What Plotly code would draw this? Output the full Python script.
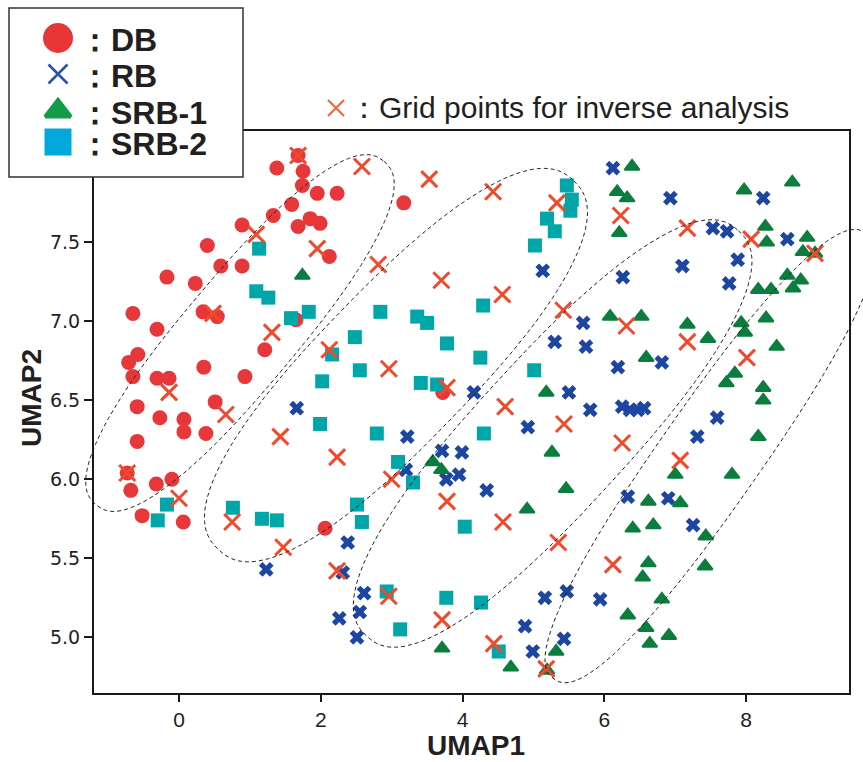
import numpy as np
import plotly.graph_objects as go

# ---------------- data ----------------
db_x = [1.38, 1.75, 1.74, 1.95, 2.23, 1.59, 1.33, 0.89, 1.68, 1.85, 1.99, 2.12, 0.40, 0.59, 0.89,
        -0.17, 0.23, -0.65, -0.31, 0.34, 0.54, 1.65, 1.21, -0.71, -0.58, 0.35, 0.93, -0.65, -0.31,
        -0.14, 0.51, -0.59, -0.27, 0.07, 0.07, 0.38, -0.59, -0.68, -0.32, -0.10, -0.52, 0.06, 2.06,
        3.17, 3.72, 1.68, -0.73]
db_y = [7.97, 7.95, 7.86, 7.81, 7.81, 7.74, 7.67, 7.61, 7.60, 7.65, 7.62, 7.41, 7.48, 7.35, 7.35,
        7.28, 7.24, 7.05, 6.95, 7.06, 7.03, 7.01, 6.82, 6.74, 6.79, 6.71, 6.65, 6.65, 6.64,
        6.64, 6.49, 6.46, 6.39, 6.38, 6.30, 6.29, 6.24, 5.93, 5.97, 6.00, 5.77, 5.73, 5.69,
        7.75, 6.55, 8.05, 6.04]

rb_x = [5.13, 5.70, 5.30, 5.74, 4.16, 5.50, 5.80, 4.92, 3.22, 3.71, 3.99, 3.20, 3.95, 3.77, 4.34,
        1.66, 2.38, 1.23, 2.31, 2.61, 2.55, 2.26, 2.51, 5.16, 5.47, 5.94, 4.88, 5.43, 4.99, 6.12,
        6.93, 8.24, 7.53, 7.73, 8.58, 7.88, 7.10, 6.26, 7.76, 6.81, 6.19, 6.25, 6.36, 6.47, 6.56,
        7.59, 7.31, 6.33, 6.90, 7.25]
rb_y = [7.32, 6.99, 6.87, 6.84, 6.55, 6.55, 6.44, 6.33, 6.27, 6.18, 6.17, 6.06, 6.03, 6.00, 5.93,
        6.45, 5.60, 5.43, 5.41, 5.28, 5.16, 5.12, 5.00, 5.25, 5.29, 5.24, 5.07, 4.99, 4.91, 7.97,
        7.78, 7.78, 7.59, 7.57, 7.52, 7.39, 7.35, 7.28, 7.24, 6.74, 6.71, 6.46, 6.44, 6.44, 6.45,
        6.39, 6.27, 5.89, 5.88, 5.71]

srb1_x = [1.74, 5.18, 5.26, 3.58, 3.70, 5.46, 4.91, 6.39, 6.18, 6.32, 7.97, 8.65, 6.21, 8.27, 8.29,
          8.86, 8.80, 8.97, 8.58, 8.77, 8.66, 8.17, 8.35, 6.08, 6.52, 7.17, 7.93, 7.98, 8.28, 7.46,
          8.43, 6.59, 7.84, 7.72, 8.24, 8.24, 8.17, 7.00, 7.80, 6.62, 7.07, 6.40, 6.69, 7.43, 6.62,
          6.54, 7.42, 6.81, 6.33, 6.59, 6.64, 6.91, 3.71, 5.32, 4.68, 5.19]
srb1_y = [7.29, 6.55, 6.17, 6.11, 6.06, 5.94, 5.81, 7.98, 7.82, 7.78, 7.83, 7.88, 7.56, 7.60, 7.50,
          7.53, 7.44, 7.43, 7.29, 7.26, 7.21, 7.20, 7.20, 7.03, 7.03, 6.98, 6.99, 6.93, 7.02, 6.89,
          6.84, 6.77, 6.67, 6.61, 6.58, 6.50, 6.27, 6.03, 6.03, 5.86, 5.85, 5.69, 5.71, 5.64, 5.47,
          5.38, 5.45, 5.24, 5.14, 5.06, 4.96, 5.01, 4.93, 4.91, 4.81, 4.79]

srb2_x = [1.13, 1.09, 1.26, 1.58, 1.83, 5.47, 5.54, 5.52, 5.19, 5.30, 5.02, 4.29, 2.84, 3.36, 3.50,
          2.48, 3.78, 2.16, 2.02, 1.99, -0.17, -0.30, 0.76, 1.17, 1.38, 4.25, 2.55, 3.41, 3.64, 5.01,
          2.79, 4.30, 3.09, 3.30, 2.51, 2.58, 4.03, 2.93, 3.12, 3.77, 4.26, 4.51]
srb2_y = [7.46, 7.19, 7.15, 7.02, 7.06, 7.86, 7.77, 7.70, 7.65, 7.57, 7.48, 7.10, 7.06, 7.03, 6.99,
          6.90, 6.86, 6.79, 6.62, 6.35, 5.84, 5.74, 5.82, 5.75, 5.74, 6.77, 6.69, 6.61, 6.60, 6.69,
          6.29, 6.29, 6.11, 5.98, 5.84, 5.73, 5.70, 5.29, 5.05, 5.25, 5.22, 4.91]

grid_x = [1.68, 1.09, 1.95, 0.48, 1.31, 2.58, 3.53, 4.43, 5.33, 2.81, 3.70, 4.56, 5.42, 2.12, -0.14,
          0.66, 1.43, 2.23, -0.73, 0.00, 0.75, 2.96, 3.78, 4.60, 5.43, 3.00, 3.78, 4.57, 6.23, 7.17,
          8.07, 8.97, 6.31, 7.17, 8.01, 6.25, 7.07, 6.12, 1.47, 2.23, 2.96, 3.71, 5.35, 4.44, 5.18]
grid_y = [8.05, 7.55, 7.46, 7.05, 6.93, 7.98, 7.90, 7.82, 7.75, 7.36, 7.26, 7.17, 7.07, 6.82, 6.55,
          6.41, 6.27, 6.14, 6.04, 5.88, 5.73, 6.70, 6.58, 6.46, 6.35, 6.00, 5.86, 5.73, 7.67, 7.59,
          7.52, 7.43, 6.97, 6.87, 6.77, 6.23, 6.12, 5.46, 5.57, 5.42, 5.26, 5.11, 5.60, 4.96, 4.80]

x_ticks = [0, 2, 4, 6, 8]
y_ticks = [5.0, 5.5, 6.0, 6.5, 7.0, 7.5]
legend_labels = ["：DB", "：RB", "：SRB-1", "：SRB-2"]
grid_label = "：Grid points for inverse analysis"

# cluster outlines: centre (data units), half-length / half-width (px), angle (deg)
ell_cx = [0.86, 3.06, 5.27, 7.49]
ell_cy = [6.926, 6.723, 6.290, 6.147]
ell_a = [224, 256, 275, 272]
ell_b = [56, 77, 76, 50]
ell_ang = [50, 46, 47.5, 55]

# ---------------- layout constants ----------------
W, H = 863, 762
PL, PR, PT, PB = 93, 850, 130, 694
XR = [-1.213, 9.464]
YR = [4.641, 8.211]

C_DB = "#e8373a"
C_RB = "#1d46a2"
C_S1 = "#0b7d3e"
C_S2 = "#00a6a8"
C_GRID = "#f04a2c"


def to_px(x, y):
    px = PL + (x - XR[0]) / (XR[1] - XR[0]) * (PR - PL)
    py = PB - (y - YR[0]) / (YR[1] - YR[0]) * (PB - PT)
    return px, py


def outline_path(cx, cy, a, b, ang, n=2.4, m=160):
    x0, y0 = to_px(cx, cy)
    t = np.linspace(0, 2 * np.pi, m, endpoint=False)
    c, s = np.cos(t), np.sin(t)
    u = a * np.sign(c) * np.abs(c) ** (2 / n)
    v = b * np.sign(s) * np.abs(s) ** (2 / n)
    th = np.radians(ang)
    X = x0 + u * np.cos(th) + v * np.sin(th)
    Y = y0 - u * np.sin(th) + v * np.cos(th)
    pts = [f"{X[i]:.1f},{Y[i]:.1f}" for i in range(m)]
    return "M" + " L".join(pts) + " Z"


def fx(px):
    return px / W


def fy(py):
    return 1 - py / H


fig = go.Figure()

fig.add_trace(go.Scatter(x=db_x, y=db_y, mode="markers",
                         marker=dict(symbol="circle", size=15, color=C_DB, line=dict(width=0))))
fig.add_trace(go.Scatter(x=rb_x, y=rb_y, mode="markers",
                         marker=dict(symbol="x", size=13, color=C_RB, line=dict(width=0))))
fig.add_trace(go.Scatter(x=srb1_x, y=srb1_y, mode="markers",
                         marker=dict(symbol="triangle-up", size=13, color=C_S1,
                                     line=dict(width=2, color=C_S1))))
fig.add_trace(go.Scatter(x=srb2_x, y=srb2_y, mode="markers",
                         marker=dict(symbol="square", size=14, color=C_S2, line=dict(width=0))))
fig.add_trace(go.Scatter(x=grid_x, y=grid_y, mode="markers",
                         marker=dict(symbol="x-thin", size=16, color=C_GRID,
                                     line=dict(width=3, color=C_GRID))))

# legend symbols on a full-figure pixel overlay
leg_px_x = 58
leg_rows_y = [38, 74, 111, 142]
fig.add_trace(go.Scatter(x=[leg_px_x], y=[leg_rows_y[0]], xaxis="x2", yaxis="y2", mode="markers",
                         marker=dict(symbol="circle", size=30, color="#e83535")))
fig.add_trace(go.Scatter(x=[leg_px_x], y=[leg_rows_y[1]], xaxis="x2", yaxis="y2", mode="markers",
                         marker=dict(symbol="x-thin", size=19, color="#2a50a8",
                                     line=dict(width=2.5, color="#2a50a8"))))
fig.add_trace(go.Scatter(x=[leg_px_x], y=[leg_rows_y[2]], xaxis="x2", yaxis="y2", mode="markers",
                         marker=dict(symbol="triangle-up", size=22, color="#139c48",
                                     line=dict(width=4, color="#139c48"))))
fig.add_trace(go.Scatter(x=[leg_px_x], y=[leg_rows_y[3]], xaxis="x2", yaxis="y2", mode="markers",
                         marker=dict(symbol="square", size=27, color="#00a8dc")))
fig.add_trace(go.Scatter(x=[336], y=[108], xaxis="x2", yaxis="y2", mode="markers",
                         marker=dict(symbol="x-thin", size=16, color="#ef6a3c",
                                     line=dict(width=2.2, color="#ef6a3c"))))

shapes = []
# frame
shapes.append(dict(type="rect", xref="paper", yref="paper", x0=fx(PL), x1=fx(PR), y0=fy(PB), y1=fy(PT),
                   line=dict(color="#1a1a1a", width=2), fillcolor="rgba(0,0,0,0)", layer="below"))
# legend box
shapes.append(dict(type="rect", xref="paper", yref="paper", x0=fx(9), x1=fx(243), y0=fy(177), y1=fy(8),
                   line=dict(color="#333333", width=1.5), fillcolor="white", layer="below"))
for i in range(len(ell_cx)):
    shapes.append(dict(type="path", xref="x2", yref="y2",
                       path=outline_path(ell_cx[i], ell_cy[i], ell_a[i], ell_b[i], ell_ang[i]),
                       line=dict(color="#222222", width=1, dash="4px,3px"), layer="below"))

annotations = []
lab_font = dict(family="Liberation Sans, Arial, sans-serif", size=32, color="#231f20")
for i, lab in enumerate(legend_labels):
    annotations.append(dict(text=f"<b>{lab}</b>", x=fx(77), y=fy(leg_rows_y[i] + 2), xref="paper", yref="paper",
                            xanchor="left", yanchor="middle", showarrow=False, font=lab_font))
annotations.append(dict(text=grid_label, x=fx(347), y=fy(108), xref="paper", yref="paper",
                        xanchor="left", yanchor="middle", showarrow=False,
                        font=dict(family="Liberation Sans, Arial, sans-serif", size=30, color="#231f20")))
title_font = dict(family="Liberation Sans, Arial, sans-serif", size=28, color="#231f20")
annotations.append(dict(text="<b>UMAP1</b>", x=fx(476), y=fy(745), xref="paper", yref="paper",
                        xanchor="center", yanchor="middle", showarrow=False, font=title_font))
annotations.append(dict(text="<b>UMAP2</b>", x=fx(31), y=fy(398), xref="paper", yref="paper",
                        xanchor="center", yanchor="middle", showarrow=False, textangle=-90,
                        font=title_font))

fig.update_layout(
    width=W, height=H, autosize=False,
    margin=dict(l=0, r=0, t=0, b=0, pad=0),
    paper_bgcolor="white", plot_bgcolor="rgba(0,0,0,0)",
    showlegend=False,
    xaxis=dict(domain=[PL / W, PR / W], range=XR, showgrid=False, zeroline=False, showline=False,
               ticks="outside", ticklen=7, tickwidth=1.5, tickcolor="#1a1a1a",
               tickvals=x_ticks, ticktext=[str(v) for v in x_ticks],
               tickfont=dict(family="Liberation Sans, Arial, sans-serif", size=21, color="#231f20")),
    yaxis=dict(domain=[1 - PB / H, 1 - PT / H], range=YR, showgrid=False, zeroline=False, showline=False,
               ticks="outside", ticklen=8, tickwidth=1.5, tickcolor="#1a1a1a",
               tickvals=y_ticks, ticktext=[f"{v:.1f}" for v in y_ticks],
               tickfont=dict(family="DejaVu Sans, sans-serif", size=19, color="#231f20")),
    xaxis2=dict(domain=[0, 1], range=[0, W], visible=False, anchor="y2", fixedrange=True),
    yaxis2=dict(domain=[0, 1], range=[H, 0], visible=False, anchor="x2", fixedrange=True),
    shapes=shapes,
    annotations=annotations,
)

fig.write_html("out.html")
